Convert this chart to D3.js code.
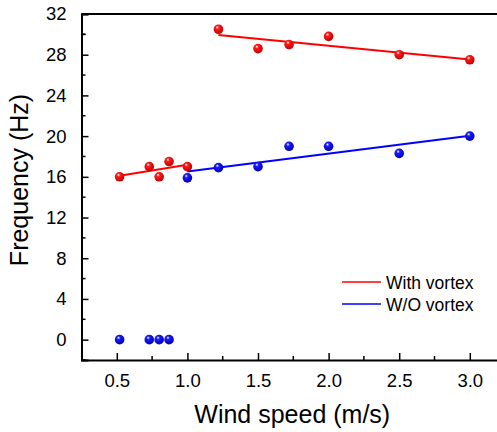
<!DOCTYPE html>
<html>
<head>
<meta charset="utf-8">
<script src="https://cdn.jsdelivr.net/npm/d3@7"></script>
<style>
    body { margin: 0; background: #fff; }
    text { font-family: "Liberation Sans", Arial, sans-serif; fill: #000; }
</style>
</head>
<body>
<div id="chart"></div>
<script>
// wind speed (m/s)
var speedLow = [0.52, 0.73, 0.80, 0.87, 1.0];
var speedHigh = [1.22, 1.5, 1.72, 2.0, 2.5, 3.0];

// frequency with vortex (Hz)
var withLow = [16.0, 17.0, 16.0, 17.5, 17.0];
var withHigh = [30.5, 28.6, 29.0, 29.8, 28.0, 27.5];

// frequency without vortex (Hz)
var woLow = [0, 0, 0, 0];
var woHigh = [15.9, 16.9, 17.0, 19.0, 19.0, 18.3, 20.0];
var woHighSpeed = [1.0, 1.22, 1.5, 1.72, 2.0, 2.5, 3.0];

var xTicks = [0.5, 1.0, 1.5, 2.0, 2.5, 3.0];
var yTicks = [0, 4, 8, 12, 16, 20, 24, 28, 32];
var seriesNames = ["With vortex", "W/O vortex"];

var W = 497, H = 432;
var margin = { top: 14, left: 81.5, bottom: 72 };

var x = d3.scaleLinear().domain([0.25, 3.25]).range([margin.left, margin.left + 3 * 141.2]);
var y = d3.scaleLinear().domain([-2, 32]).range([H - margin.bottom, margin.top]);

var svg = d3.select("#chart").append("svg")
    .attr("width", W)
    .attr("height", H);

// sphere look for the markers
var defs = svg.append("defs");
function ballGrad(id, col, dark) {
    var g = defs.append("radialGradient").attr("id", id)
        .attr("cx", "0.4").attr("cy", "0.35").attr("r", "0.65")
        .attr("fx", "0.38").attr("fy", "0.3");
    g.append("stop").attr("offset", "0").attr("stop-color", "#fff");
    g.append("stop").attr("offset", "0.28").attr("stop-color", col);
    g.append("stop").attr("offset", "1").attr("stop-color", dark);
}
ballGrad("gRed", "#ff1a1a", "#c00000");
ballGrad("gBlue", "#1a1aff", "#0000b0");

// axes with inward ticks
var xAxis = d3.axisBottom(x).tickValues(xTicks).tickSize(-7).tickPadding(14)
    .tickFormat(d3.format(".1f"));
var gx = svg.append("g")
    .attr("transform", "translate(0," + y(-2) + ")")
    .call(xAxis);
var yAxis = d3.axisLeft(y).tickValues(yTicks).tickSize(-7).tickPadding(15);
var gy = svg.append("g")
    .attr("transform", "translate(" + x(0.25) + ",0)")
    .call(yAxis);

// minor ticks
svg.append("g").selectAll("line")
    .data(d3.range(0.75, 3.25, 0.5))
    .enter().append("line")
    .attr("x1", function (d) { return x(d); }).attr("x2", function (d) { return x(d); })
    .attr("y1", y(-2)).attr("y2", y(-2) - 4)
    .attr("stroke", "#000").attr("stroke-width", 1.5);
svg.append("g").selectAll("line")
    .data(d3.range(-2, 32, 4).concat([30]))
    .enter().append("line")
    .attr("x1", x(0.25)).attr("x2", x(0.25) + 4)
    .attr("y1", function (d) { return y(d); }).attr("y2", function (d) { return y(d); })
    .attr("stroke", "#000").attr("stroke-width", 1.5);

[gx, gy].forEach(function (g) {
    g.select(".domain").attr("stroke-width", 2);
    g.selectAll(".tick line").attr("stroke-width", 1.5);
    g.selectAll(".tick text").style("font-size", "18.5px")
        .style("font-family", "'Liberation Sans', Arial, sans-serif");
});

// top frame line
svg.append("line")
    .attr("x1", x(0.25)).attr("x2", W)
    .attr("y1", y(32)).attr("y2", y(32))
    .attr("stroke", "#000").attr("stroke-width", 2);

// least squares fit lines
function fit(xs, ys) {
    var mx = d3.mean(xs), my = d3.mean(ys);
    var sxy = d3.sum(xs, function (v, i) { return (v - mx) * (ys[i] - my); });
    var sxx = d3.sum(xs, function (v) { return (v - mx) * (v - mx); });
    var b = sxy / sxx, a = my - b * mx;
    var x0 = d3.min(xs), x1 = d3.max(xs);
    return [[x0, a + b * x0], [x1, a + b * x1]];
}
var line = d3.line()
    .x(function (d) { return x(d[0]); })
    .y(function (d) { return y(d[1]); });

var fits = [
    { pts: fit(speedLow, withLow), col: "#ff0000" },
    { pts: fit(speedHigh, withHigh), col: "#ff0000" },
    { pts: fit(woHighSpeed, woHigh), col: "#0000ff" }
];
svg.selectAll(".fit")
    .data(fits)
    .enter().append("path")
    .attr("class", "fit")
    .attr("d", function (d) { return line(d.pts); })
    .attr("stroke", function (d) { return d.col; })
    .attr("stroke-width", 2)
    .attr("fill", "none");

// points
var redPts = speedLow.map(function (s, i) { return [s, withLow[i]]; })
    .concat(speedHigh.map(function (s, i) { return [s, withHigh[i]]; }));
var bluePts = speedLow.slice(0, 4).map(function (s, i) { return [s, woLow[i]]; })
    .concat(woHighSpeed.map(function (s, i) { return [s, woHigh[i]]; }));

function drawPts(data, grad) {
    svg.append("g").selectAll("circle")
        .data(data)
        .enter().append("circle")
        .attr("cx", function (d) { return x(d[0]); })
        .attr("cy", function (d) { return y(d[1]); })
        .attr("r", 4.8)
        .attr("fill", "url(#" + grad + ")");
}
drawPts(redPts, "gRed");
drawPts(bluePts, "gBlue");

// legend
var legend = svg.append("g").attr("transform", "translate(342,282)");
var legendCols = ["#ff0000", "#0000ff"];
seriesNames.forEach(function (name, i) {
    legend.append("line")
        .attr("x1", 0).attr("x2", 39)
        .attr("y1", i * 22).attr("y2", i * 22)
        .attr("stroke", legendCols[i]).attr("stroke-width", 1.5);
    legend.append("text")
        .attr("x", 44).attr("y", i * 22 + 6.5)
        .style("font-size", "17.5px")
        .text(name);
});

// axis titles
svg.append("text")
    .attr("x", (x(0.25) + 497) / 2 + 3)
    .attr("y", 423)
    .attr("text-anchor", "middle")
    .style("font-size", "25px")
    .text("Wind speed (m/s)");
svg.append("text")
    .attr("transform", "translate(28," + 180 + ") rotate(-90)")
    .attr("text-anchor", "middle")
    .style("font-size", "25px")
    .text("Frequency (Hz)");
</script>
</body>
</html>
